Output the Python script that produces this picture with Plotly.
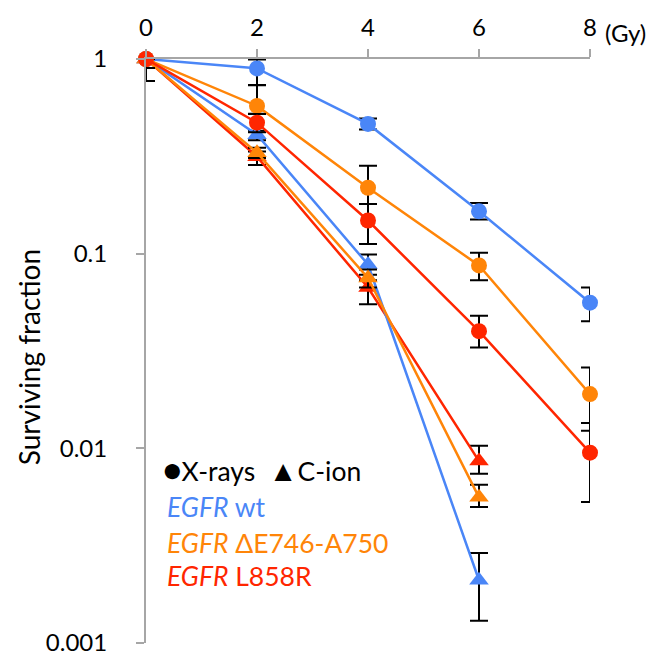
import plotly.graph_objects as go

# ---- data ----
doses_x = [0, 2, 4, 6, 8]
doses_c = [0, 2, 4, 6]
x_ticks = [0, 2, 4, 6, 8]
y_ticks = [1, 0.1, 0.01, 0.001]
y_ticktext = ["1", "0.1", "0.01", "0.001"]

xray_wt = [1, 0.895, 0.464, 0.165, 0.056]
xray_wt_up = [0, 0.10, 0.03, 0.017, 0.011]
xray_wt_dn = [0.10, 0.16, 0.03, 0.015, 0.011]

xray_del = [1, 0.574, 0.218, 0.087, 0.019]
xray_del_up = [0, 0.16, 0.065, 0.014, 0.007]
xray_del_dn = [0.10, 0.05, 0.038, 0.014, 0.0067]

xray_l858r = [1, 0.471, 0.148, 0.040, 0.0095]
xray_l858r_up = [0, 0.05, 0.032, 0.008, 0.004]
xray_l858r_dn = [0.10, 0.05, 0.036, 0.007, 0.0042]

cion_wt = [1, 0.408, 0.088, 0.0021]
cion_wt_up = [0, 0.02, 0.011, 0.0008]
cion_wt_dn = [0.23, 0.025, 0.010, 0.0008]

cion_del = [1, 0.330, 0.075, 0.0056]
cion_del_up = [0, 0.02, 0.008, 0.0009]
cion_del_dn = [0.10, 0.02, 0.008, 0.0006]

cion_l858r = [1, 0.315, 0.067, 0.0086]
cion_l858r_up = [0, 0.02, 0.006, 0.0017]
cion_l858r_dn = [0.10, 0.03, 0.012, 0.0012]

BLUE = "#4A86F7"
ORANGE = "#FF8508"
RED = "#FF2600"
AXIS = "#A6A6A6"
FONT = "Lato"

fig = go.Figure()


def add(x, y, up, dn, color, symbol):
    fig.add_trace(go.Scatter(
        x=x, y=y, mode="lines+markers",
        line=dict(color=color, width=2.5),
        marker=dict(color=color, size=16 if symbol == "circle" else 17, symbol=symbol),
        error_y=dict(type="data", symmetric=False, array=up, arrayminus=dn,
                     color="black", thickness=2, width=9),
        cliponaxis=False, showlegend=False, hoverinfo="x+y",
    ))


add(doses_c, cion_l858r, cion_l858r_up, cion_l858r_dn, RED, "triangle-up")
add(doses_c, cion_wt, cion_wt_up, cion_wt_dn, BLUE, "triangle-up")
add(doses_c, cion_del, cion_del_up, cion_del_dn, ORANGE, "triangle-up")
add(doses_x, xray_wt, xray_wt_up, xray_wt_dn, BLUE, "circle")
add(doses_x, xray_del, xray_del_up, xray_del_dn, ORANGE, "circle")
add(doses_x, xray_l858r, xray_l858r_up, xray_l858r_dn, RED, "circle")

# page body has an 8px margin, so the figure is sized to fill the rest of the window
fig.update_layout(
    width=646, height=653,
    margin=dict(l=138, r=64, t=51, b=18),
    paper_bgcolor="white", plot_bgcolor="white",
    font=dict(family=FONT, size=22, color="black"),
    xaxis=dict(
        side="top", range=[0, 8], tickvals=x_ticks, ticktext=[str(v) for v in x_ticks],
        showgrid=False, zeroline=False, showline=True, linecolor=AXIS, linewidth=2,
        ticks="outside", ticklen=8, tickwidth=2, tickcolor=AXIS, automargin=False,
        ticklabelstandoff=3, tickfont=dict(size=24),
    ),
    yaxis=dict(
        type="log", range=[-3, 0], tickvals=y_ticks, ticktext=y_ticktext,
        showgrid=False, zeroline=False, showline=True, linecolor=AXIS, linewidth=2,
        ticks="outside", ticklen=8, tickwidth=2, tickcolor=AXIS, automargin=False,
        ticklabelstandoff=24, tickfont=dict(size=24),
    ),
)

LEG = 26.5
ann = [
    dict(text="(Gy)", x=1.03, y=1.045, xanchor="left", yanchor="middle", font=dict(size=24)),
    dict(text="Surviving fraction", x=-0.265, y=0.49, textangle=-90,
         xanchor="center", yanchor="middle", font=dict(size=28)),
    dict(text="<span style='font-size:31px'>●</span>X-rays  <span style='font-size:29px'>▲</span>C-ion",
         x=0.034, y=0.298, xanchor="left", yanchor="middle", font=dict(size=LEG)),
    dict(text="<i>EGFR</i> wt", x=0.042, y=0.233, xanchor="left", yanchor="middle",
         font=dict(size=LEG, color=BLUE)),
    dict(text="<i>EGFR</i> ΔE746-A750", x=0.042, y=0.172, xanchor="left", yanchor="middle",
         font=dict(size=LEG, color=ORANGE)),
    dict(text="<i>EGFR</i> L858R", x=0.042, y=0.114, xanchor="left", yanchor="middle",
         font=dict(size=LEG, color=RED)),
]
for a in ann:
    a.update(xref="paper", yref="paper", showarrow=False)
    fig.add_annotation(**a)

fig.write_html("out.html")
